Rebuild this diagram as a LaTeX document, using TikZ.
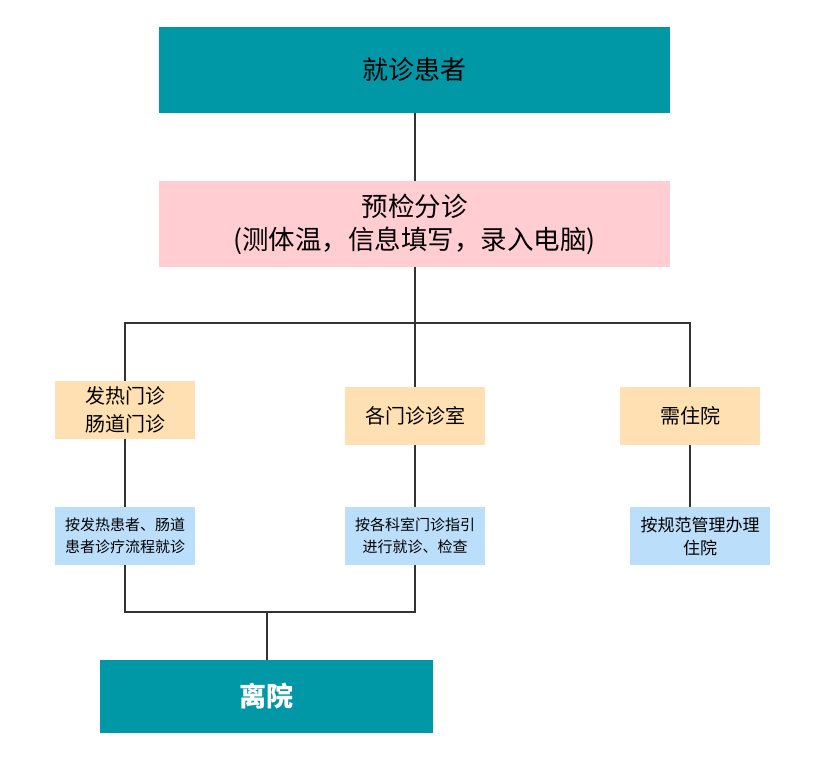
\documentclass[tikz,border=0pt]{standalone}
\usepackage{fontspec}
\setmainfont{Noto Sans CJK SC}
\definecolor{tealc}{HTML}{0097A7}
\definecolor{pinkc}{HTML}{FFCDD2}
\definecolor{orangec}{HTML}{FFE0B2}
\definecolor{bluec}{HTML}{BBDEFB}
\definecolor{linec}{HTML}{333333}
\begin{document}
\begin{tikzpicture}[x=1pt,y=-1pt,
  box/.style={draw=none,inner sep=0pt,align=center,text=black},
  bigbox/.style={box,fill=tealc,minimum width=511pt,minimum height=86pt,font=\fontsize{26}{31}\selectfont},
  pinkbox/.style={box,fill=pinkc,minimum width=511pt,minimum height=86pt,font=\fontsize{26.5}{33}\selectfont},
  obox/.style={box,fill=orangec,minimum width=140pt,minimum height=58pt,font=\fontsize{20}{28}\selectfont},
  bbox/.style={box,fill=bluec,minimum width=140pt,minimum height=58pt,font=\fontsize{15}{22}\selectfont},
  conn/.style={draw=linec,line width=2pt}]
\useasboundingbox (0,0) rectangle (821,763);
\node[bigbox] (top) at (414.5,70) {就诊患者};
\node[pinkbox] (pre) at (414.5,224) {预检分诊\\(测体温，信息填写，录入电脑)};
\node[obox] (lo) at (125,410) {发热门诊\\肠道门诊};
\node[obox] (mo) at (415,416) {各门诊诊室};
\node[obox] (ro) at (690,416) {需住院};
\node[bbox] (lb) at (125,536) {按发热患者、肠道\\患者诊疗流程就诊};
\node[bbox] (mb) at (415,536) {按各科室门诊指引\\进行就诊、检查};
\node[bbox,font=\fontsize{17}{23}\selectfont] (rb) at (700,536) {按规范管理办理\\住院};
\node[box,fill=tealc,minimum width=333pt,minimum height=73pt,text=white,font=\fontsize{27}{32}\selectfont\bfseries] (out) at (266.5,696.5) {离院};
\coordinate (h) at (415,323);
\coordinate (m) at (266.5,612);
\draw[conn] (top.south) -- (top.south |- pre.north);
\draw[conn] (pre.south -| mo.north) -- (mo.north);
\draw[conn] (lo.north) -- (lo.north |- h) -- (ro.north |- h) -- (ro.north);
\draw[conn] (lo.south) -- (lb.north);
\draw[conn] (mo.south) -- (mb.north);
\draw[conn] (ro.south) -- (ro.south |- rb.north);
\draw[conn] (lb.south) -- (lb.south |- m) -- (mb.south |- m) -- (mb.south);
\draw[conn] (m) -- (out.north);
\end{tikzpicture}
\end{document}
